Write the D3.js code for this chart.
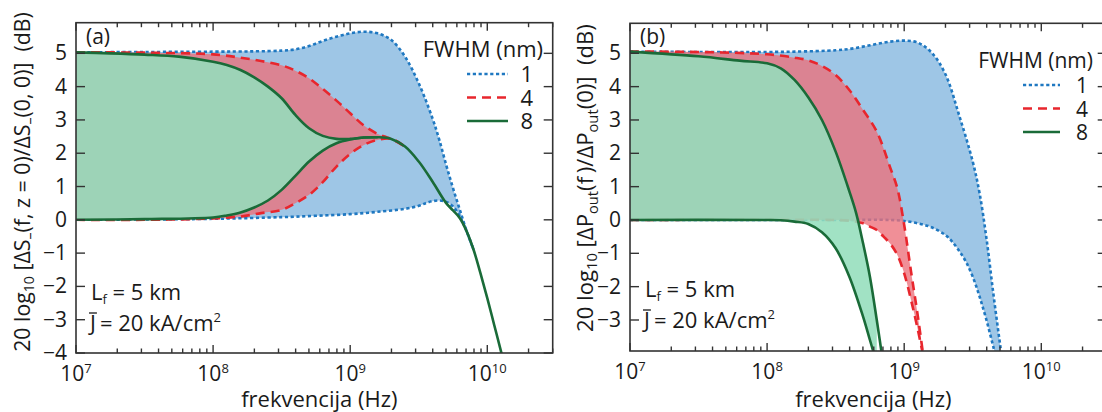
<!DOCTYPE html>
<html><head><meta charset="utf-8">
<script src="https://cdn.jsdelivr.net/npm/d3@7"></script>
<style>
body{margin:0;background:#fff}
svg text{font-family:"Open Sans",sans-serif;fill:#1a1a1a}
</style></head><body>
<svg id="chart" width="1102" height="412"></svg>
<script>
// every curve is a list of [log10(f / Hz), dB]
const fwhm = ['1', '4', '8'];
const decades = [7, 8, 9, 10];
const yTicksA = [-4, -3, -2, -1, 0, 1, 2, 3, 4, 5];
const yTicksB = [-3, -2, -1, 0, 1, 2, 3, 4, 5];

// panel (a)
const aUp1 = [[7,5.03],[7.5,5.04],[8,5.05],[8.3,5.06],[8.5,5.08],[8.6,5.12],[8.7,5.22],[8.8,5.37],[8.9,5.5],[9,5.6],[9.1,5.65],[9.2,5.6],[9.3,5.4],[9.4,4.9],[9.5,4.1],[9.6,3.05],[9.65,2.4],[9.7,1.65],[9.75,0.95],[9.8,0.3],[9.85,-0.35],[9.9,-0.9]];
const aLo1 = [[7,0],[7.5,0.01],[8,0.03],[8.5,0.08],[8.75,0.12],[9,0.17],[9.2,0.24],[9.4,0.33],[9.5,0.42],[9.55,0.5],[9.6,0.56],[9.65,0.58],[9.7,0.54],[9.75,0.4],[9.8,0.1],[9.85,-0.35],[9.9,-0.9]];
const aUp4 = [[7,5.03],[7.5,5.02],[8,4.97],[8.2,4.87],[8.35,4.77],[8.5,4.64],[8.6,4.48],[8.7,4.25],[8.8,3.93],[8.9,3.58],[9,3.2],[9.1,2.83],[9.2,2.58],[9.25,2.5],[9.3,2.43],[9.4,2.2]];
const aLo4 = [[7,0],[7.5,0],[8,0.04],[8.2,0.1],[8.35,0.2],[8.5,0.3],[8.6,0.5],[8.7,0.75],[8.8,1.13],[8.9,1.6],[9,1.98],[9.1,2.25],[9.2,2.4],[9.3,2.43],[9.4,2.2]];
const aUp8 = [[7,5.03],[7.25,5],[7.5,4.96],[7.75,4.9],[8,4.75],[8.1,4.65],[8.2,4.5],[8.3,4.28],[8.4,4],[8.5,3.65],[8.6,3.15],[8.7,2.75],[8.8,2.52],[8.9,2.43],[9,2.43],[9.1,2.47],[9.2,2.48],[9.3,2.43],[9.4,2.2],[9.5,1.75],[9.6,1.15],[9.7,0.5],[9.75,0.28],[9.8,0.05],[9.85,-0.35],[9.9,-0.9],[9.95,-1.6],[10,-2.35],[10.05,-3.15],[10.1,-3.95],[10.15,-4.8]];
const aLo8 = [[7,0],[7.5,0.02],[8,0.07],[8.1,0.13],[8.2,0.22],[8.3,0.37],[8.4,0.58],[8.5,0.9],[8.6,1.32],[8.7,1.75],[8.8,2.08],[8.9,2.3],[9,2.41],[9.1,2.47],[9.2,2.48]];

// panel (b)
const bUp1 = [[7,5.05],[7.5,5.04],[8,5.04],[8.2,5.05],[8.5,5.09],[8.6,5.13],[8.7,5.2],[8.8,5.28],[8.9,5.35],[9,5.38],[9.1,5.32],[9.2,5.02],[9.3,4.38],[9.4,3.15],[9.5,1.75],[9.55,0.8],[9.6,-0.55],[9.65,-2.2],[9.7,-3.75],[9.75,-5.2]];
const bLo1 = [[7,0],[8.5,0],[8.9,0],[9,-0.03],[9.1,-0.1],[9.2,-0.22],[9.3,-0.45],[9.35,-0.65],[9.4,-0.92],[9.45,-1.25],[9.5,-1.7],[9.55,-2.3],[9.6,-3],[9.65,-3.8],[9.7,-4.6]];
const bUp4 = [[7,5.05],[7.5,5.04],[8,4.97],[8.2,4.87],[8.3,4.79],[8.4,4.62],[8.5,4.35],[8.6,3.9],[8.7,3.3],[8.8,2.65],[8.9,1.55],[8.95,0.95],[9,-0.15],[9.05,-1.55],[9.1,-2.9],[9.15,-4.4]];
const bLo4 = [[7,0],[8.5,0],[8.6,-0.02],[8.7,-0.1],[8.75,-0.2],[8.8,-0.3],[8.85,-0.5],[8.9,-0.72],[8.95,-1.05],[9,-1.6],[9.05,-2.4],[9.1,-3.3],[9.15,-4.3]];
const bUp8 = [[7,5.05],[7.5,4.91],[7.8,4.78],[8,4.7],[8.1,4.55],[8.2,4.2],[8.3,3.68],[8.4,3],[8.5,2.05],[8.6,0.86],[8.65,0.2],[8.7,-0.7],[8.75,-1.7],[8.8,-3],[8.85,-4.4]];
const bLo8 = [[7,0],[8,0],[8.1,-0.01],[8.2,-0.05],[8.3,-0.12],[8.4,-0.37],[8.5,-0.85],[8.6,-1.7],[8.7,-2.9],[8.75,-3.6],[8.8,-4.3]];

const lineColors = ['#1f78c1', '#e8262d', '#1a6b38'];
const fillColors = ['#9ec6e6', 'rgba(236,112,122,0.78)', 'rgba(148,222,188,0.88)'];
const dashes = ['3.2,2.6', '9,6', null];

const svg = d3.select('#chart');

// segments: [text, shift] ; shift > 0 lowers (subscript), < 0 raises (superscript)
function rich(t, segs, small, k){
  k = k || 1;
  let cur = 0;
  t.selectAll('tspan').remove();
  segs.forEach(s => {
    const sh = (s[1] || 0) * k;
    const ts = t.append('tspan').attr('dy', sh - cur).text(s[0]);
    if (sh) ts.attr('font-size', small * k);
    cur = sh;
  });
}

function drawPanel(p){
  const x = d3.scaleLog().domain([1e7, 3e10]).range([p.x0, p.x1]);
  const y = d3.scaleLinear().domain(p.yDomain).range([p.yBot, p.yTop]);
  const g = svg.append('g');

  const clipId = 'clip' + p.name;
  svg.append('clipPath').attr('id', clipId).append('rect')
    .attr('x', p.x0).attr('y', p.yTop).attr('width', p.x1 - p.x0).attr('height', p.yBot - p.yTop);
  const plot = g.append('g').attr('clip-path', `url(#${clipId})`);

  const line = d3.line().x(d => x(Math.pow(10, d[0]))).y(d => y(d[1]))
                 .curve(d3.curveCatmullRom.alpha(0.5));

  p.series.forEach((s, i) => {
    // the band stops where the lower curve joins the upper one
    const end = s[1][s[1].length - 1][0];
    const up = s[0].filter(d => d[0] <= end + 1e-9);
    const band = line(up) + line(s[1].slice().reverse()).replace(/^M/, 'L') + 'Z';
    plot.append('path').attr('d', band).attr('fill', fillColors[i]).attr('stroke', 'none');
    [s[0], s[1]].forEach(c => {
      plot.append('path').attr('d', line(c)).attr('fill', 'none')
        .attr('stroke', lineColors[i]).attr('stroke-width', 2.6)
        .attr('stroke-dasharray', dashes[i]);
    });
  });

  // frame and mirrored inward ticks
  const ax = g.append('g').attr('stroke', '#333').attr('stroke-width', 1.4);
  ax.append('rect').attr('x', p.x0).attr('y', p.yTop).attr('width', p.x1 - p.x0)
    .attr('height', p.yBot - p.yTop).attr('fill', 'none').attr('stroke-width', 1.6);
  const xt = [];
  decades.forEach(d => { for (let m = 1; m <= 9; m++) xt.push({v: m * Math.pow(10, d), major: m == 1}); });
  xt.filter(t => t.v <= 3e10).forEach(t => {
    const len = t.major ? 8 : 4.5, xx = x(t.v);
    ax.append('line').attr('x1', xx).attr('x2', xx).attr('y1', p.yBot).attr('y2', p.yBot - len);
    ax.append('line').attr('x1', xx).attr('x2', xx).attr('y1', p.yTop).attr('y2', p.yTop + len);
  });
  p.yTicks.forEach(v => {
    ax.append('line').attr('x1', p.x0).attr('x2', p.x0 + 9).attr('y1', y(v)).attr('y2', y(v));
    ax.append('line').attr('x1', p.x1).attr('x2', p.x1 - 9).attr('y1', y(v)).attr('y2', y(v));
    g.append('text').attr('x', p.x0 - 9).attr('y', y(v) + 7).attr('text-anchor', 'end')
      .attr('font-size', 21).text(v < 0 ? '\u2212' + (-v) : v);
  });
  decades.forEach(d => {
    const t = g.append('text').attr('x', x(Math.pow(10, d))).attr('y', p.yBot + 28)
      .attr('text-anchor', 'middle').attr('font-size', 21);
    rich(t, [['10'], [String(d), -8]], 13);
  });

  g.append('text').attr('x', (p.x0 + p.x1) / 2 + 5).attr('y', 407).attr('text-anchor', 'middle')
    .attr('font-size', 22).text('frekvencija (Hz)');

  // y axis title, sized to the length it has in the figure
  const yl = g.append('text').attr('text-anchor', 'middle').attr('font-size', 21)
    .attr('transform', `translate(${p.ylx},${p.yly}) rotate(-90)`);
  rich(yl, p.ylabel, 14);
  const k = p.ylLen / yl.node().getComputedTextLength();
  yl.attr('font-size', 21 * k);
  rich(yl, p.ylabel, 14, k);

  g.append('text').attr('x', p.x0 + 10).attr('y', p.yTop + 21).attr('font-size', 21).text(p.tag);

  // legend
  g.append('text').attr('x', p.legTitleX).attr('y', p.legY - 17).attr('text-anchor', 'end')
    .attr('font-size', p.legFont).text('FWHM (nm)');
  fwhm.forEach((f, i) => {
    const ly = p.legY + i * 23.5;
    g.append('line').attr('x1', p.legX).attr('x2', p.legX + p.legLen).attr('y1', ly).attr('y2', ly)
      .attr('stroke', lineColors[i]).attr('stroke-width', 2.6).attr('stroke-dasharray', dashes[i]);
    g.append('text').attr('x', p.legNumX).attr('y', ly + 8).attr('text-anchor', 'end')
      .attr('font-size', p.legFont).text(f);
  });

  // parameters
  const l1 = g.append('text').attr('x', p.x0 + 15).attr('y', p.annY).attr('font-size', 22);
  rich(l1, [['L'], ['f', 4], [' = 5 km']], 13);
  const jx = p.x0 + 14, jy = p.annY + 31;
  const jt = g.append('text').attr('x', jx).attr('y', jy).attr('font-size', 22).text('J');
  const jb = jt.node().getBBox();
  g.append('line').attr('x1', jb.x + 1).attr('x2', jb.x + jb.width + 1).attr('y1', jy - 18).attr('y2', jy - 18)
    .attr('stroke', '#1a1a1a').attr('stroke-width', 1.3);
  const l2 = g.append('text').attr('x', jb.x + jb.width + 4).attr('y', jy).attr('font-size', 22);
  rich(l2, [['= 20 kA/cm'], ['2', -9]], 13);
}

drawPanel({
  name: 'a', tag: '(a)', x0: 76, x1: 552.7, yTop: 22.7, yBot: 353, yDomain: [-4, 5.92],
  yTicks: yTicksA, ylx: 30, yly: 182, ylLen: 340, annY: 300,
  legX: 467, legLen: 41, legNumX: 533, legTitleX: 543, legY: 74, legFont: 22,
  series: [[aUp1, aLo1], [aUp4, aLo4], [aUp8, aLo8]],
  ylabel: [['20 log'], ['10', 4], [' [\u0394S'], ['\u2013', 5], ['(f, z = 0)/\u0394S'], ['\u2013', 5], ['(0, 0)]\u00a0\u00a0(dB)']]
});
drawPanel({
  name: 'b', tag: '(b)', x0: 630, x1: 1106.7, yTop: 23.3, yBot: 351, yDomain: [-3.93, 5.9],
  yTicks: yTicksB, ylx: 593, yly: 178, ylLen: 308, annY: 297,
  legX: 1023, legLen: 37, legNumX: 1088, legTitleX: 1093, legY: 85, legFont: 21,
  series: [[bUp1, bLo1], [bUp4, bLo4], [bUp8, bLo8]],
  ylabel: [['20 log'], ['10', 4], [' [\u0394P'], ['out', 5], ['(f\u2009)/\u0394P'], ['out', 5], ['(0)]\u00a0\u00a0(dB)']]
});
</script>
</body></html>
